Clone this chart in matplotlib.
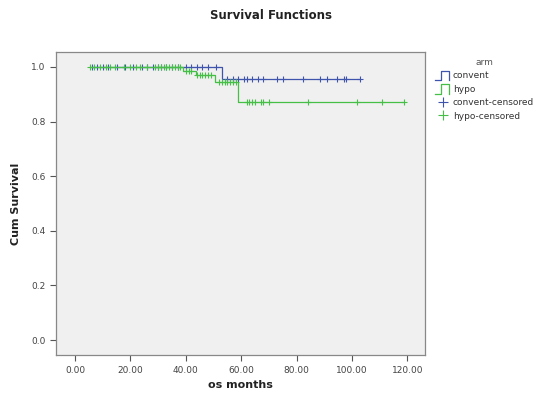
import numpy as np
import matplotlib
matplotlib.use("Agg")
import matplotlib.pyplot as plt
from matplotlib.legend_handler import HandlerBase
from matplotlib.lines import Line2D

# ---- data ----
conv_event_times = [53.0]
conv_surv = [0.955]
hypo_event_times = [39.0, 43.5, 50.5, 59.0]
hypo_surv = [0.985, 0.970, 0.945, 0.872]
conv_start = 6.0
hypo_start = 5.5
conv_end = 103.0
hypo_end = 119.0
conv_censored = [6, 8, 10, 12, 15, 18, 21, 24, 26, 28, 30, 31, 33, 35, 37, 40, 42, 44,
                 46, 48, 51, 55, 57, 59, 61, 62, 64, 66, 68, 73, 75, 82.5, 88.5, 91,
                 94.7, 97, 98, 103]
hypo_censored = [5.5, 7, 9, 11, 12.5, 14.5, 17.5, 20, 22, 23.5, 26, 29, 30, 31, 32, 33,
                 34, 35, 36, 37, 38, 40, 41, 42, 44, 45, 46, 47, 48, 49, 52, 53, 54, 55,
                 56, 57, 58, 62, 63, 64, 65, 67, 68, 70, 84, 102, 111, 119]
x_ticks = [0, 20, 40, 60, 80, 100, 120]
y_ticks = [0.0, 0.2, 0.4, 0.6, 0.8, 1.0]
series_names = ["convent", "hypo"]

BLUE = "#3f55ad"
GREEN = "#46bf46"

def step_arrays(start, times, surv, end):
    xs = [start] + list(times) + [end]
    ys = [1.0] + list(surv) + [surv[-1]]
    return xs, ys

def surv_at(t, times, surv):
    s = 1.0
    for ti, si in zip(times, surv):
        if t >= ti:
            s = si
    return s

fig = plt.figure(figsize=(5.47, 3.99), dpi=100)
ax = fig.add_axes([0.1024, 0.110, 0.675, 0.760])
ax.set_facecolor("#f0f0f0")

for start, times, surv, end, cens, col in [
        (conv_start, conv_event_times, conv_surv, conv_end, conv_censored, BLUE),
        (hypo_start, hypo_event_times, hypo_surv, hypo_end, hypo_censored, GREEN)]:
    xs, ys = step_arrays(start, times, surv, end)
    ax.step(xs, ys, where="post", color=col, lw=0.9)
    cy = [surv_at(t, times, surv) for t in cens]
    ax.plot(cens, cy, ls="none", marker="+", ms=5, mew=0.8, color=col)

ax.set_xlim(-6.9, 126.5)
ax.set_ylim(-0.055, 1.055)
ax.set_xticks(x_ticks)
ax.set_xticklabels([f"{v:.2f}" for v in x_ticks])
ax.set_yticks(y_ticks)
ax.set_yticklabels([f"{v:.1f}" for v in y_ticks])
ax.tick_params(direction="out", length=4, width=0.8, colors="#555555",
               labelsize=6.5, labelcolor="#444444")
for sp in ax.spines.values():
    sp.set_color("#888888")
    sp.set_linewidth(0.9)

ax.set_xlabel("os months", fontsize=8, fontweight="bold", labelpad=4, color="#222222")
ax.set_ylabel("Cum Survival", fontsize=8, fontweight="bold", labelpad=7, color="#222222")
fig.text(0.495, 0.96, "Survival Functions", ha="center", va="center",
         fontsize=8.5, fontweight="bold", color="#222222")

class StepHandler(HandlerBase):
    def create_artists(self, legend, orig_handle, xdescent, ydescent, width, height,
                       fontsize, trans):
        x = np.array([0.0, 0.4, 0.4, 0.95, 0.95]) * width - xdescent
        y = np.array([-0.1, -0.1, 1.0, 1.0, -0.1]) * height - ydescent
        ln = Line2D(x, y, color=orig_handle.get_color(), lw=0.9, transform=trans)
        return [ln]

h_conv = Line2D([], [], color=BLUE)
h_hypo = Line2D([], [], color=GREEN)
h_cc = Line2D([], [], ls="none", marker="+", ms=7, mew=0.8, color=BLUE)
h_hc = Line2D([], [], ls="none", marker="+", ms=7, mew=0.8, color=GREEN)
leg = fig.legend([h_conv, h_hypo, h_cc, h_hc],
                 [series_names[0], series_names[1],
                  series_names[0] + "-censored", series_names[1] + "-censored"],
                 handler_map={h_conv: StepHandler(), h_hypo: StepHandler()},
                 loc="upper left", bbox_to_anchor=(0.795, 0.855), frameon=False,
                 fontsize=6.5, title="arm", title_fontsize=6.5, handlelength=1.7,
                 handleheight=1.1, handletextpad=0.3, labelspacing=0.45,
                 borderaxespad=0, borderpad=0)
for t in leg.get_texts():
    t.set_color("#333333")
leg.get_title().set_color("#555555")

fig.savefig("out.png", dpi=100)
